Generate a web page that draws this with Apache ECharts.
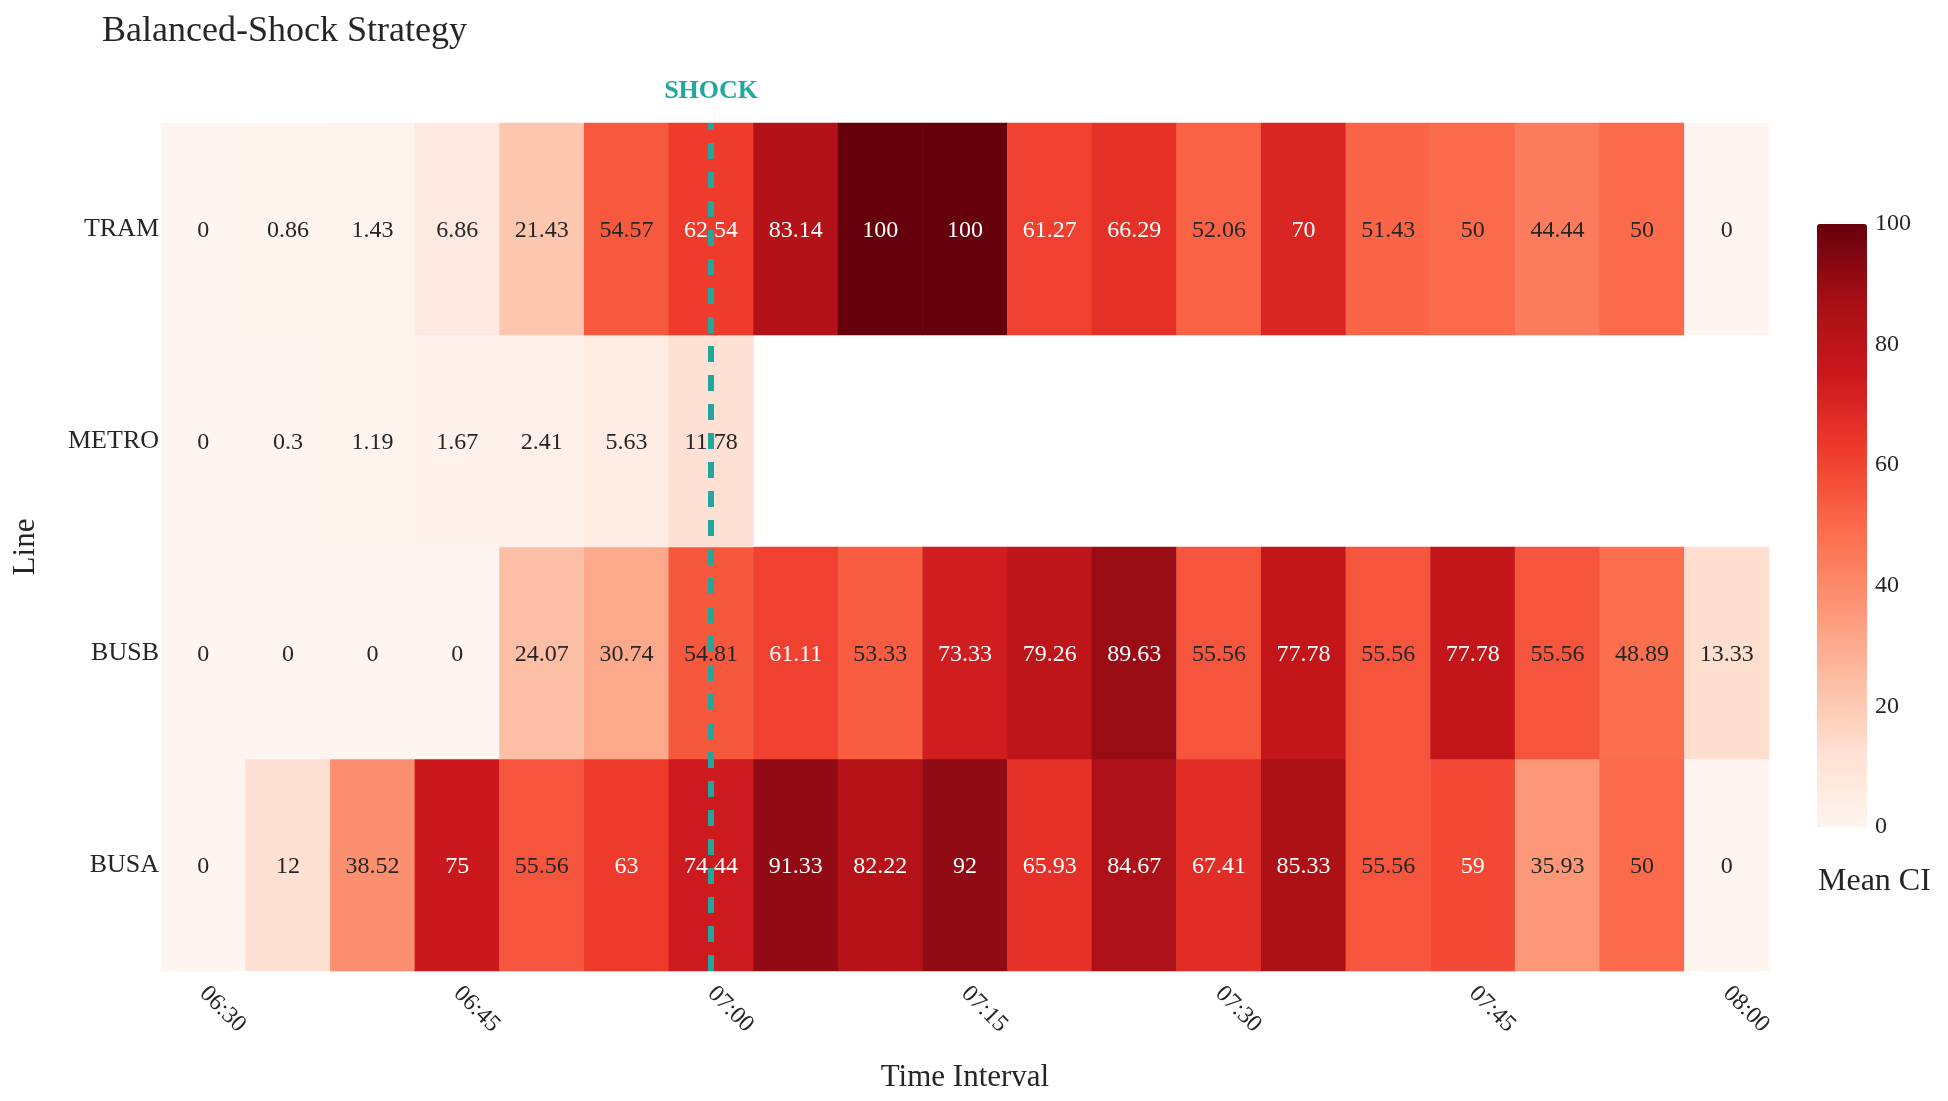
<!DOCTYPE html>
<html>
<head>
<meta charset="utf-8">
<script src="https://cdn.jsdelivr.net/npm/echarts/dist/echarts.min.js"></script>
<style>
html,body{margin:0;padding:0;background:#ffffff;}
#chart{width:1948px;height:1101px;}
</style>
</head>
<body>
<div id="chart"></div>
<script>
// ---- data ----
const timeLabels = ['06:30','06:35','06:40','06:45','06:50','06:55','07:00','07:05','07:10','07:15',
                    '07:20','07:25','07:30','07:35','07:40','07:45','07:50','07:55','08:00'];
const lineNames = ['BUSA','BUSB','METRO','TRAM'];   // bottom -> top
const tramValues  = [0, 0.86, 1.43, 6.86, 21.43, 54.57, 62.54, 83.14, 100, 100, 61.27, 66.29, 52.06, 70, 51.43, 50, 44.44, 50, 0];
const metroValues = [0, 0.3, 1.19, 1.67, 2.41, 5.63, 11.78, null, null, null, null, null, null, null, null, null, null, null, null];
const busbValues  = [0, 0, 0, 0, 24.07, 30.74, 54.81, 61.11, 53.33, 73.33, 79.26, 89.63, 55.56, 77.78, 55.56, 77.78, 55.56, 48.89, 13.33];
const busaValues  = [0, 12, 38.52, 75, 55.56, 63, 74.44, 91.33, 82.22, 92, 65.93, 84.67, 67.41, 85.33, 55.56, 59, 35.93, 50, 0];
const shockTime = '07:00';
const ciMin = 0, ciMax = 100, ciTickStep = 20;

// ---- build heatmap items ----
const rowsByLine = { BUSA: busaValues, BUSB: busbValues, METRO: metroValues, TRAM: tramValues };
const heatData = [];
lineNames.forEach(function (name, yi) {
  rowsByLine[name].forEach(function (v, xi) {
    if (v === null || v === undefined) return;
    heatData.push({
      value: [xi, yi, v],
      label: { color: v > 57 ? '#ffffff' : '#262626' }
    });
  });
});

const FONT = 'Liberation Serif';
const reds = ['#fff5f0','#fee0d2','#fcbba1','#fc9272','#fb6a4a','#ef3b2c','#cb181d','#a50f15','#67000d'];
const teal = '#20a89f';

const chart = echarts.init(document.getElementById('chart'), null, { renderer: 'canvas' });
chart.setOption({
  animation: false,
  backgroundColor: '#ffffff',
  textStyle: { fontFamily: FONT },
  title: [
    { text: 'Balanced-Shock Strategy', left: 102, top: 14, padding: 0,
      textStyle: { fontFamily: FONT, fontSize: 36, fontWeight: 'normal', color: '#262626' } },
    { text: 'Mean CI', left: 1818, top: 866, padding: 0,
      textStyle: { fontFamily: FONT, fontSize: 32, fontWeight: 'normal', color: '#262626' } }
  ],
  grid: [
    { left: 161, right: 179, top: 123, bottom: 130, containLabel: false },
    { left: 1817, top: 224, width: 50, height: 603, containLabel: false }
  ],
  xAxis: [
    {
      type: 'category', gridIndex: 0, data: timeLabels,
      name: 'Time Interval', nameLocation: 'middle', nameGap: 91,
      nameTextStyle: { fontFamily: FONT, fontSize: 31, color: '#262626' },
      axisLine: { show: false }, axisTick: { show: false }, splitLine: { show: false },
      axisLabel: { interval: 2, rotate: -45, margin: 19, fontFamily: FONT, fontSize: 24, color: '#262626' }
    },
    { type: 'value', gridIndex: 1, show: false, min: 0, max: 1 }
  ],
  yAxis: [
    {
      type: 'category', gridIndex: 0, data: lineNames,
      name: 'Line', nameLocation: 'middle', nameGap: 120,
      nameTextStyle: { fontFamily: FONT, fontSize: 31, color: '#262626' },
      axisLine: { show: false }, axisTick: { show: false }, splitLine: { show: false },
      axisLabel: { margin: 2, fontFamily: FONT, fontSize: 26, color: '#262626', padding: [4, 0, 0, 0] }
    },
    {
      type: 'value', gridIndex: 1, position: 'right', min: ciMin, max: ciMax, interval: ciTickStep,
      axisLine: { show: false }, axisTick: { show: false }, splitLine: { show: false },
      axisLabel: { margin: 8, fontFamily: FONT, fontSize: 24, color: '#262626', padding: [3, 0, 0, 0] }
    }
  ],
  visualMap: {
    type: 'continuous', seriesIndex: 0, min: ciMin, max: ciMax,
    calculable: false, realtime: false, hoverLink: false,
    orient: 'vertical', left: 1817, top: 224, padding: 0,
    itemWidth: 50, itemHeight: 603, text: null, showLabel: false,
    inRange: { color: reds }
  },
  series: [
    {
      type: 'heatmap', xAxisIndex: 0, yAxisIndex: 0, data: heatData,
      itemStyle: { borderWidth: 0 },
      label: {
        show: true, fontFamily: FONT, fontSize: 24, offset: [0, 2],
        formatter: function (p) { return String(p.value[2]); }
      },
      emphasis: { disabled: true }
    },
    {
      type: 'line', xAxisIndex: 0, yAxisIndex: 0, data: [], silent: true,
      markLine: {
        silent: true, symbol: ['none', 'none'], animation: false,
        lineStyle: { color: teal, width: 6, type: [16, 13] },
        label: {
          show: true, position: 'end', distance: 19, formatter: 'SHOCK',
          fontFamily: FONT, fontSize: 26, fontWeight: 'bold', color: teal
        },
        emphasis: { disabled: true },
        data: [{ xAxis: shockTime }]
      }
    }
  ]
});
</script>
</body>
</html>
